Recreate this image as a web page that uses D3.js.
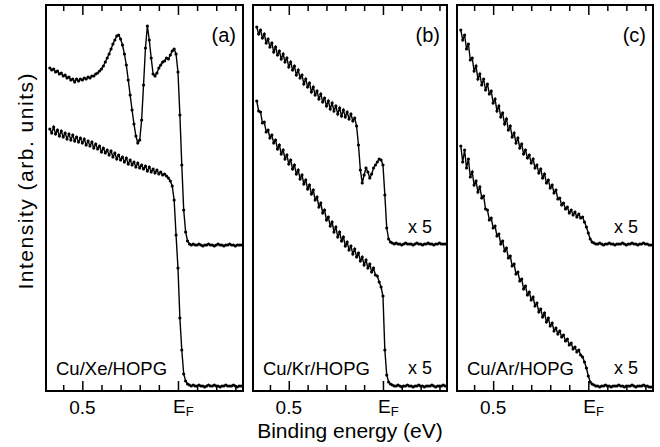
<!DOCTYPE html>
<meta charset="utf-8">
<script src="https://d3js.org/d3.v7.min.js"></script>
<style>
  body { margin: 0; background: #fff; }
  text { font-family: "Liberation Sans", Arial, Helvetica, sans-serif; fill: #000; }
</style>
<div id="chart"></div>
<script>
  // binding energy grid (eV), shared by every spectrum
  var energy = [0.67, 0.66, 0.65, 0.64, 0.63, 0.62, 0.61, 0.60, 0.59, 0.58, 0.57, 0.56, 0.55, 0.54, 0.53, 0.52, 0.51,
    0.50, 0.49, 0.48, 0.47, 0.46, 0.45, 0.44, 0.43, 0.42, 0.41, 0.40, 0.39, 0.38, 0.37, 0.36, 0.35, 0.34, 0.33,
    0.32, 0.31, 0.30, 0.29, 0.28, 0.27, 0.26, 0.25, 0.24, 0.23, 0.22, 0.21, 0.20, 0.19, 0.18, 0.17, 0.16, 0.15,
    0.14, 0.13, 0.12, 0.11, 0.10, 0.09, 0.08, 0.07, 0.06, 0.05, 0.04, 0.03, 0.02, 0.01, 0, -0.01, -0.02, -0.03,
    -0.04, -0.05, -0.06, -0.07, -0.08, -0.09, -0.10, -0.11, -0.12, -0.13, -0.14, -0.15, -0.16, -0.17, -0.18,
    -0.19, -0.20, -0.21, -0.22, -0.23, -0.24, -0.25, -0.26, -0.27, -0.28, -0.29, -0.30, -0.31, -0.32, -0.33];

  // intensities (arb. units, curves already offset as in the figure)
  var xeTop = [323, 321, 322, 319, 320, 317, 318, 315, 316, 313, 314, 311, 312, 309, 312, 310, 312, 311, 313, 312,
    314, 313, 315, 315, 317, 318, 320, 322, 325, 329, 333, 337, 342, 347, 351, 355, 356, 352, 346, 337, 326, 311,
    296, 281, 267, 255, 248, 251, 271, 306, 343, 365, 351, 333, 317, 315, 318, 323, 326, 329, 330, 333, 332, 336,
    340, 342, 337, 319, 276, 226, 181, 159, 150, 147,
    146, 147, 146, 146, 147, 146, 145, 146, 146, 147, 146, 146, 145, 146, 147, 146, 146, 145, 146, 146, 147, 146,
    146, 145, 146, 146, 146];
  var xeBottom = [262, 258, 264, 257, 261, 255, 260, 254, 258, 252, 257, 251, 256, 250, 254, 249, 253, 248, 252, 246,
    250, 245, 249, 243, 247, 242, 245, 239, 243, 238, 241, 236, 240, 234, 238, 232, 236, 231, 234, 229, 233, 227,
    231, 226, 229, 224, 228, 223, 226, 222, 225, 220, 224, 219, 222, 218, 221, 217, 219, 216, 217, 215, 213, 210,
    205, 191, 156, 123, 73, 41, 17, 10, 7, 6,
    5, 6, 5, 5, 6, 5, 5, 4, 5, 6, 5, 5, 6, 5, 5, 4, 5, 5, 6, 5, 5, 5, 6, 5, 4, 5, 5];
  var krTop = [364, 357, 361, 353, 357, 348, 352, 344, 348, 339, 344, 336, 340, 332, 337, 329, 333, 324, 329, 321,
    325, 316, 321, 313, 316, 307, 312, 304, 308, 299, 304, 296, 300, 292, 297, 289, 293, 285, 290, 282, 288, 280,
    285, 277, 283, 275, 281, 274, 279, 272, 277, 270, 273, 265,
    246, 221, 208, 216, 223, 219, 213, 217, 223, 226, 229, 232, 231, 226, 196, 163, 152, 149, 148,
    147, 148, 147, 147, 146, 147, 148, 147, 147, 147, 146, 147, 148, 147, 147, 146, 147, 147, 148, 147, 147, 146,
    147, 147, 148, 147, 147, 147];
  var krBottom = [290, 280, 279, 268, 269, 259, 261, 253, 256, 248, 251, 242, 246, 237, 241, 232, 236, 227, 231, 222,
    226, 217, 221, 212, 216, 207, 211, 202, 206, 197, 201, 191, 194, 184, 188, 178, 181, 171, 174, 165, 169, 159,
    164, 154, 159, 150, 154, 145, 149, 141, 145, 137, 142, 134, 138, 130, 134, 126, 131, 123, 127, 119, 123, 116,
    115, 109, 104, 95, 41, 16, 9, 7, 6,
    5, 5, 6, 5, 4, 5, 5, 6, 5, 5, 4, 5, 5, 6, 5, 5, 4, 5, 5, 5, 6, 5, 4, 5, 5, 5, 6, 5];
  var arTop = [361, 351, 356, 342, 347, 331, 333, 320, 325, 312, 317, 306, 312, 301, 307, 297, 300, 288, 292, 280,
    285, 274, 278, 267, 272, 261, 265, 254, 258, 248, 253, 243, 247, 237, 241, 233, 236, 228, 232, 223, 226, 218,
    222, 213, 217, 208, 211, 203, 206, 198, 201, 192, 193, 186, 188, 182, 184, 178, 181, 176, 179, 174, 177, 173,
    174, 169, 164, 158, 152, 149, 148,
    147, 147, 148, 147, 146, 147, 147, 148, 147, 147, 146, 147, 147, 147, 148, 147, 146, 147, 147, 148, 147, 147,
    146, 147, 147, 148, 147, 147, 146, 146];
  var arBottom = [245, 229, 241, 223, 232, 214, 219, 206, 210, 199, 204, 193, 195, 182, 181, 171, 173, 163, 165, 155,
    157, 147, 150, 140, 143, 133, 135, 125, 127, 117, 119, 110, 112, 102, 105, 96, 99, 91, 94, 85, 88, 79, 82, 74,
    78, 69, 73, 65, 68, 60, 63, 57, 60, 54, 56, 50, 52, 46, 48, 42, 44, 39, 41, 36,
    34, 29, 23, 15, 9, 7, 6,
    5, 5, 4, 5, 5, 6, 5, 5, 4, 5, 5, 5, 6, 5, 5, 4, 5, 5, 5, 6, 5, 4, 5, 5, 5, 6, 5, 5, 4, 4];

  var panelIds = ["(a)", "(b)", "(c)"];
  var sampleNames = ["Cu/Xe/HOPG", "Cu/Kr/HOPG", "Cu/Ar/HOPG"];
  var factors = ["", "x 5", "x 5"];
  var upper = [xeTop, krTop, arTop];
  var lower = [xeBottom, krBottom, arBottom];
  var majorTicks = [0.5, 0];
  var majorLabels = ["0.5", "E"];
  var minorTicks = [0.6, 0.4, 0.3, 0.2, 0.1, -0.1, -0.2, -0.3];

  var W = 660, H = 447;
  var frames = [[46, 243], [253, 447], [457, 653]];
  var plotTop = 5, plotBottom = 391;

  var svg = d3.select("#chart")
    .append("svg")
    .attr("width", W)
    .attr("height", H);

  var y = d3.scaleLinear().domain([0, 386]).range([plotBottom, plotTop]);

  frames.forEach(function (f, p) {
    var x = d3.scaleLinear().domain([0.69, -0.34]).range(f);
    var g = svg.append("g");

    // inward ticks on top and bottom
    [[minorTicks, 6], [majorTicks, 10]].forEach(function (t) {
      g.append("g")
        .attr("transform", "translate(0," + plotBottom + ")")
        .call(d3.axisBottom(x).tickValues(t[0]).tickSize(-t[1]).tickFormat(""));
      g.append("g")
        .attr("transform", "translate(0," + plotTop + ")")
        .call(d3.axisTop(x).tickValues(t[0]).tickSize(-t[1]).tickFormat(""));
    });
    g.selectAll(".domain").remove();
    g.selectAll(".tick line").attr("stroke", "#000").attr("stroke-width", 1.5);

    g.append("rect")
      .attr("x", f[0]).attr("y", plotTop)
      .attr("width", f[1] - f[0]).attr("height", plotBottom - plotTop)
      .attr("fill", "none").attr("stroke", "#000").attr("stroke-width", 2);

    var line = d3.line()
      .x(function (d) { return x(d[0]); })
      .y(function (d) { return y(d[1]); });

    [upper[p], lower[p]].forEach(function (s) {
      var pts = energy.map(function (e, i) { return [e, s[i]]; })
        .filter(function (d) { return d[1] != null; });
      g.append("path").datum(pts)
        .attr("d", line)
        .attr("fill", "none").attr("stroke", "#000").attr("stroke-width", 1.4);
      g.selectAll(null).data(pts).enter()
        .append("circle")
        .attr("cx", function (d) { return x(d[0]); })
        .attr("cy", function (d) { return y(d[1]); })
        .attr("r", 1.6)
        .attr("fill", "#000");
    });

    // tick labels
    g.append("text").attr("x", x(majorTicks[0])).attr("y", 414)
      .attr("text-anchor", "middle").style("font-size", "19px").text(majorLabels[0]);
    var ef = g.append("text").attr("x", x(majorTicks[1]) - 5).attr("y", 413)
      .style("font-size", "19px").text(majorLabels[1]);
    ef.append("tspan").attr("dy", 3).style("font-size", "13px").text("F");

    g.append("text").attr("x", f[1] - 7).attr("y", 42)
      .attr("text-anchor", "end").style("font-size", "20px").text(panelIds[p]);
    g.append("text").attr("x", f[0] + 10).attr("y", 375)
      .style("font-size", "18.5px").text(sampleNames[p]);
    if (factors[p]) {
      [233, 374].forEach(function (yy) {
        g.append("text").attr("x", f[1] - 15).attr("y", yy)
          .attr("text-anchor", "end").style("font-size", "18px").text(factors[p]);
      });
    }
  });

  svg.append("text")
    .attr("x", 350).attr("y", 438)
    .attr("text-anchor", "middle").style("font-size", "21px")
    .text("Binding energy (eV)");

  svg.append("text")
    .attr("transform", "translate(33,181.5) rotate(-90)")
    .attr("text-anchor", "middle").style("font-size", "21px")
    .attr("textLength", 216).attr("lengthAdjust", "spacing")
    .text("Intensity (arb. units)");
</script>
